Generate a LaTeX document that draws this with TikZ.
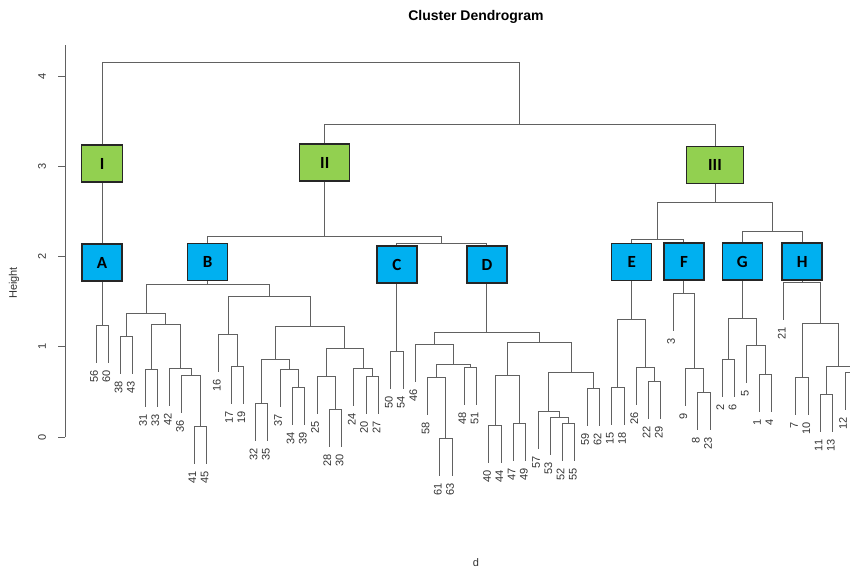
\documentclass[tikz,border=0pt]{standalone}
\usepackage{fontspec}
\setmainfont{Liberation Sans}
\newfontfamily\boxfont{Carlito}
\definecolor{clusterblue}{HTML}{00B0F0}
\definecolor{clustergreen}{HTML}{92D050}
\tikzset{
  link/.style={draw=black!62, line width=1pt},
  leaflabel/.style={rotate=90, anchor=east, inner sep=0pt, text=black!80,
    font=\fontsize{11}{13}\selectfont},
  axislabel/.style={rotate=90, inner sep=0pt, text=black!80,
    font=\fontsize{11}{13}\selectfont},
  groupbox/.style={draw=black!85, line width=1.3pt, minimum height=37pt,
    minimum width=40pt, inner sep=0pt, font=\boxfont\bfseries\fontsize{17}{17}\selectfont},
  subgroup/.style={groupbox, fill=clusterblue},
  maingroup/.style={groupbox, fill=clustergreen},
}
\begin{document}
\begin{tikzpicture}[x=1pt, y=-1pt]
    \useasboundingbox (0,0) rectangle (850,570);
    \clip (0,0) rectangle (850,570);

    % Title and axis
    \node[font=\fontsize{14}{16}\selectfont\bfseries] (title) at (476,17) {Cluster Dendrogram};
    \node[text=black!80, font=\fontsize{11}{13}\selectfont] (xlab) at (476,563) {d};
    \node[axislabel] (ylab) at (14,283) {Height};
    \path (65,437) coordinate (axbottom) (65,45) coordinate (axtop);
    \draw[link] (axbottom) -- (axtop);
    \foreach \h in {0, ..., 4} {
      \path (65, {437-90.25*\h}) coordinate (tick\h);
      \draw[link] (tick\h) -- ++(-7,0);
      \node[axislabel] (ticklabel\h) at ([xshift=-23pt]tick\h) {\h};
    }

    % Dendrogram
    \begin{scope}[x=12.28pt, xshift=96pt]
      % Leaves (label / height of parent merge)
      \foreach \n/\p [count=\i from 0] in {56/325, 60/325, 38/336, 43/336, 31/369,
          33/369, 42/368, 36/375, 41/426, 45/426, 16/334, 17/366, 19/366, 32/403,
          35/403, 37/369, 34/387, 39/387, 25/376, 28/409, 30/409, 24/368, 20/376,
          27/376, 50/351, 54/351, 46/344, 58/377, 61/438, 63/438, 48/367, 51/367,
          40/425, 44/425, 47/423, 49/423, 57/411, 53/417, 52/423, 55/423, 59/388,
          62/388, 15/387, 18/387, 26/367, 22/381, 29/381, 3/293, 9/368, 8/392,
          23/392, 2/359, 6/359, 5/345, 1/374, 4/374, 21/282, 7/377, 10/377,
          11/394, 13/394, 12/372} {
        \path ({\i}, {\p+37.5}) coordinate (l\n)
              ([xshift=-2pt]{\i}, {\p+45.5}) node[leaflabel] (t\n) {\n};
      }
      % leaf past the right edge
      \coordinate (l14) at (62, 409.5);

      % Merges
      \foreach \m/\mx/\my in {A/0.5/325, 3843/2.5/336, 3133/4.5/369, 4145/8.5/426,
          36/7.75/375, 42/6.875/368, B3/5.6875/324, B2/4.09375/313,
          1719/11.5/366, 16/10.75/334, 3235/13.5/403, 3439/16.5/387,
          37/15.75/369, B6/14.625/359, 2830/19.5/409, 25/18.75/376,
          2027/22.5/376, 24/21.75/368, B7/20.25/348, B5/17.4375/326,
          B4/14.09375/296, B/9.09375/284, C/24.5/351,
          6163/28.5/438, 58/27.75/377, 4851/30.5/367, D4/29.125/364,
          46/27.5625/344, 4044/32.5/425, 4749/34.5/423, D6/33.5/375,
          5255/38.5/423, 53/37.75/417, 57/36.875/411, 5962/40.5/388,
          D8/38.6875/372, D5/36.09375/342, D/31.828125/332,
          CD/28.1640625/243, II/18.62890625/236,
          1518/42.5/387, 2229/45.5/381, 26/44.75/367, E/43.625/319,
          0823/49.5/392, 09/48.75/368, F/47.875/293,
          0206/51.5/359, 0104/54.5/374, 05/53.75/345, G/52.625/318,
          0710/57.5/377, 1113/59.5/394, 1214/61.5/372, H4/60.5/366,
          H3/59/323, H/57.5/282,
          EF/45.75/239, GH/55.0625/231, III/50.40625/202,
          Right/34.517578/124, Top/17.508789/62} {
        \coordinate (m\m) at (\mx, \my);
      }

      % Links
      \foreach \c/\p in {l56/mA, l60/mA, l38/m3843, l43/m3843, l31/m3133, l33/m3133,
          l41/m4145, l45/m4145, l36/m36, m4145/m36, l42/m42, m36/m42,
          m3133/mB3, m42/mB3, m3843/mB2, mB3/mB2,
          l17/m1719, l19/m1719, l16/m16, m1719/m16,
          l32/m3235, l35/m3235, l34/m3439, l39/m3439, l37/m37, m3439/m37,
          m3235/mB6, m37/mB6, l28/m2830, l30/m2830, l25/m25, m2830/m25,
          l20/m2027, l27/m2027, l24/m24, m2027/m24, m25/mB7, m24/mB7,
          mB6/mB5, mB7/mB5, m16/mB4, mB5/mB4, mB2/mB, mB4/mB,
          l50/mC, l54/mC,
          l61/m6163, l63/m6163, l58/m58, m6163/m58, l48/m4851, l51/m4851,
          m58/mD4, m4851/mD4, l46/m46, mD4/m46,
          l40/m4044, l44/m4044, l47/m4749, l49/m4749, m4044/mD6, m4749/mD6,
          l52/m5255, l55/m5255, l53/m53, m5255/m53, l57/m57, m53/m57,
          l59/m5962, l62/m5962, m57/mD8, m5962/mD8, mD6/mD5, mD8/mD5,
          m46/mD, mD5/mD, mC/mCD, mD/mCD, mB/mII, mCD/mII,
          l15/m1518, l18/m1518, l22/m2229, l29/m2229, l26/m26, m2229/m26,
          m1518/mE, m26/mE,
          l8/m0823, l23/m0823, l9/m09, m0823/m09, l3/mF, m09/mF,
          l2/m0206, l6/m0206, l1/m0104, l4/m0104, l5/m05, m0104/m05,
          m0206/mG, m05/mG,
          l7/m0710, l10/m0710, l11/m1113, l13/m1113, l12/m1214, l14/m1214,
          m1113/mH4, m1214/mH4, m0710/mH3, mH4/mH3, l21/mH, mH3/mH,
          mE/mEF, mF/mEF, mG/mGH, mH/mGH, mEF/mIII, mGH/mIII,
          mII/mRight, mIII/mRight, mA/mTop, mRight/mTop} {
        \draw[link] (\c) |- (\p);
      }
    \end{scope}

    % Main clusters
    \node[maingroup, minimum width=41pt] (cI) at (mA |- 0,163.5) {I};
    \node[maingroup, minimum width=50pt] (cII) at (mII |- 0,162.5) {II};
    \node[maingroup, minimum width=57pt] (cIII) at (mIII |- 0,165) {III};

    % Sub clusters
    \node[subgroup] (cA) at (mA |- 0,262.5) {A};
    \node[subgroup] (cB) at (mB |- 0,262) {B};
    \node[subgroup] (cC) at (mC |- 0,264.5) {C};
    \node[subgroup] (cD) at (mD |- 0,264.5) {D};
    \node[subgroup] (cE) at (mE |- 0,262) {E};
    \node[subgroup] (cF) at (mF |- 0,261.5) {F};
    \node[subgroup] (cG) at (mG |- 0,261.5) {G};
    \node[subgroup] (cH) at (mH |- 0,261.5) {H};
\end{tikzpicture}
\end{document}
